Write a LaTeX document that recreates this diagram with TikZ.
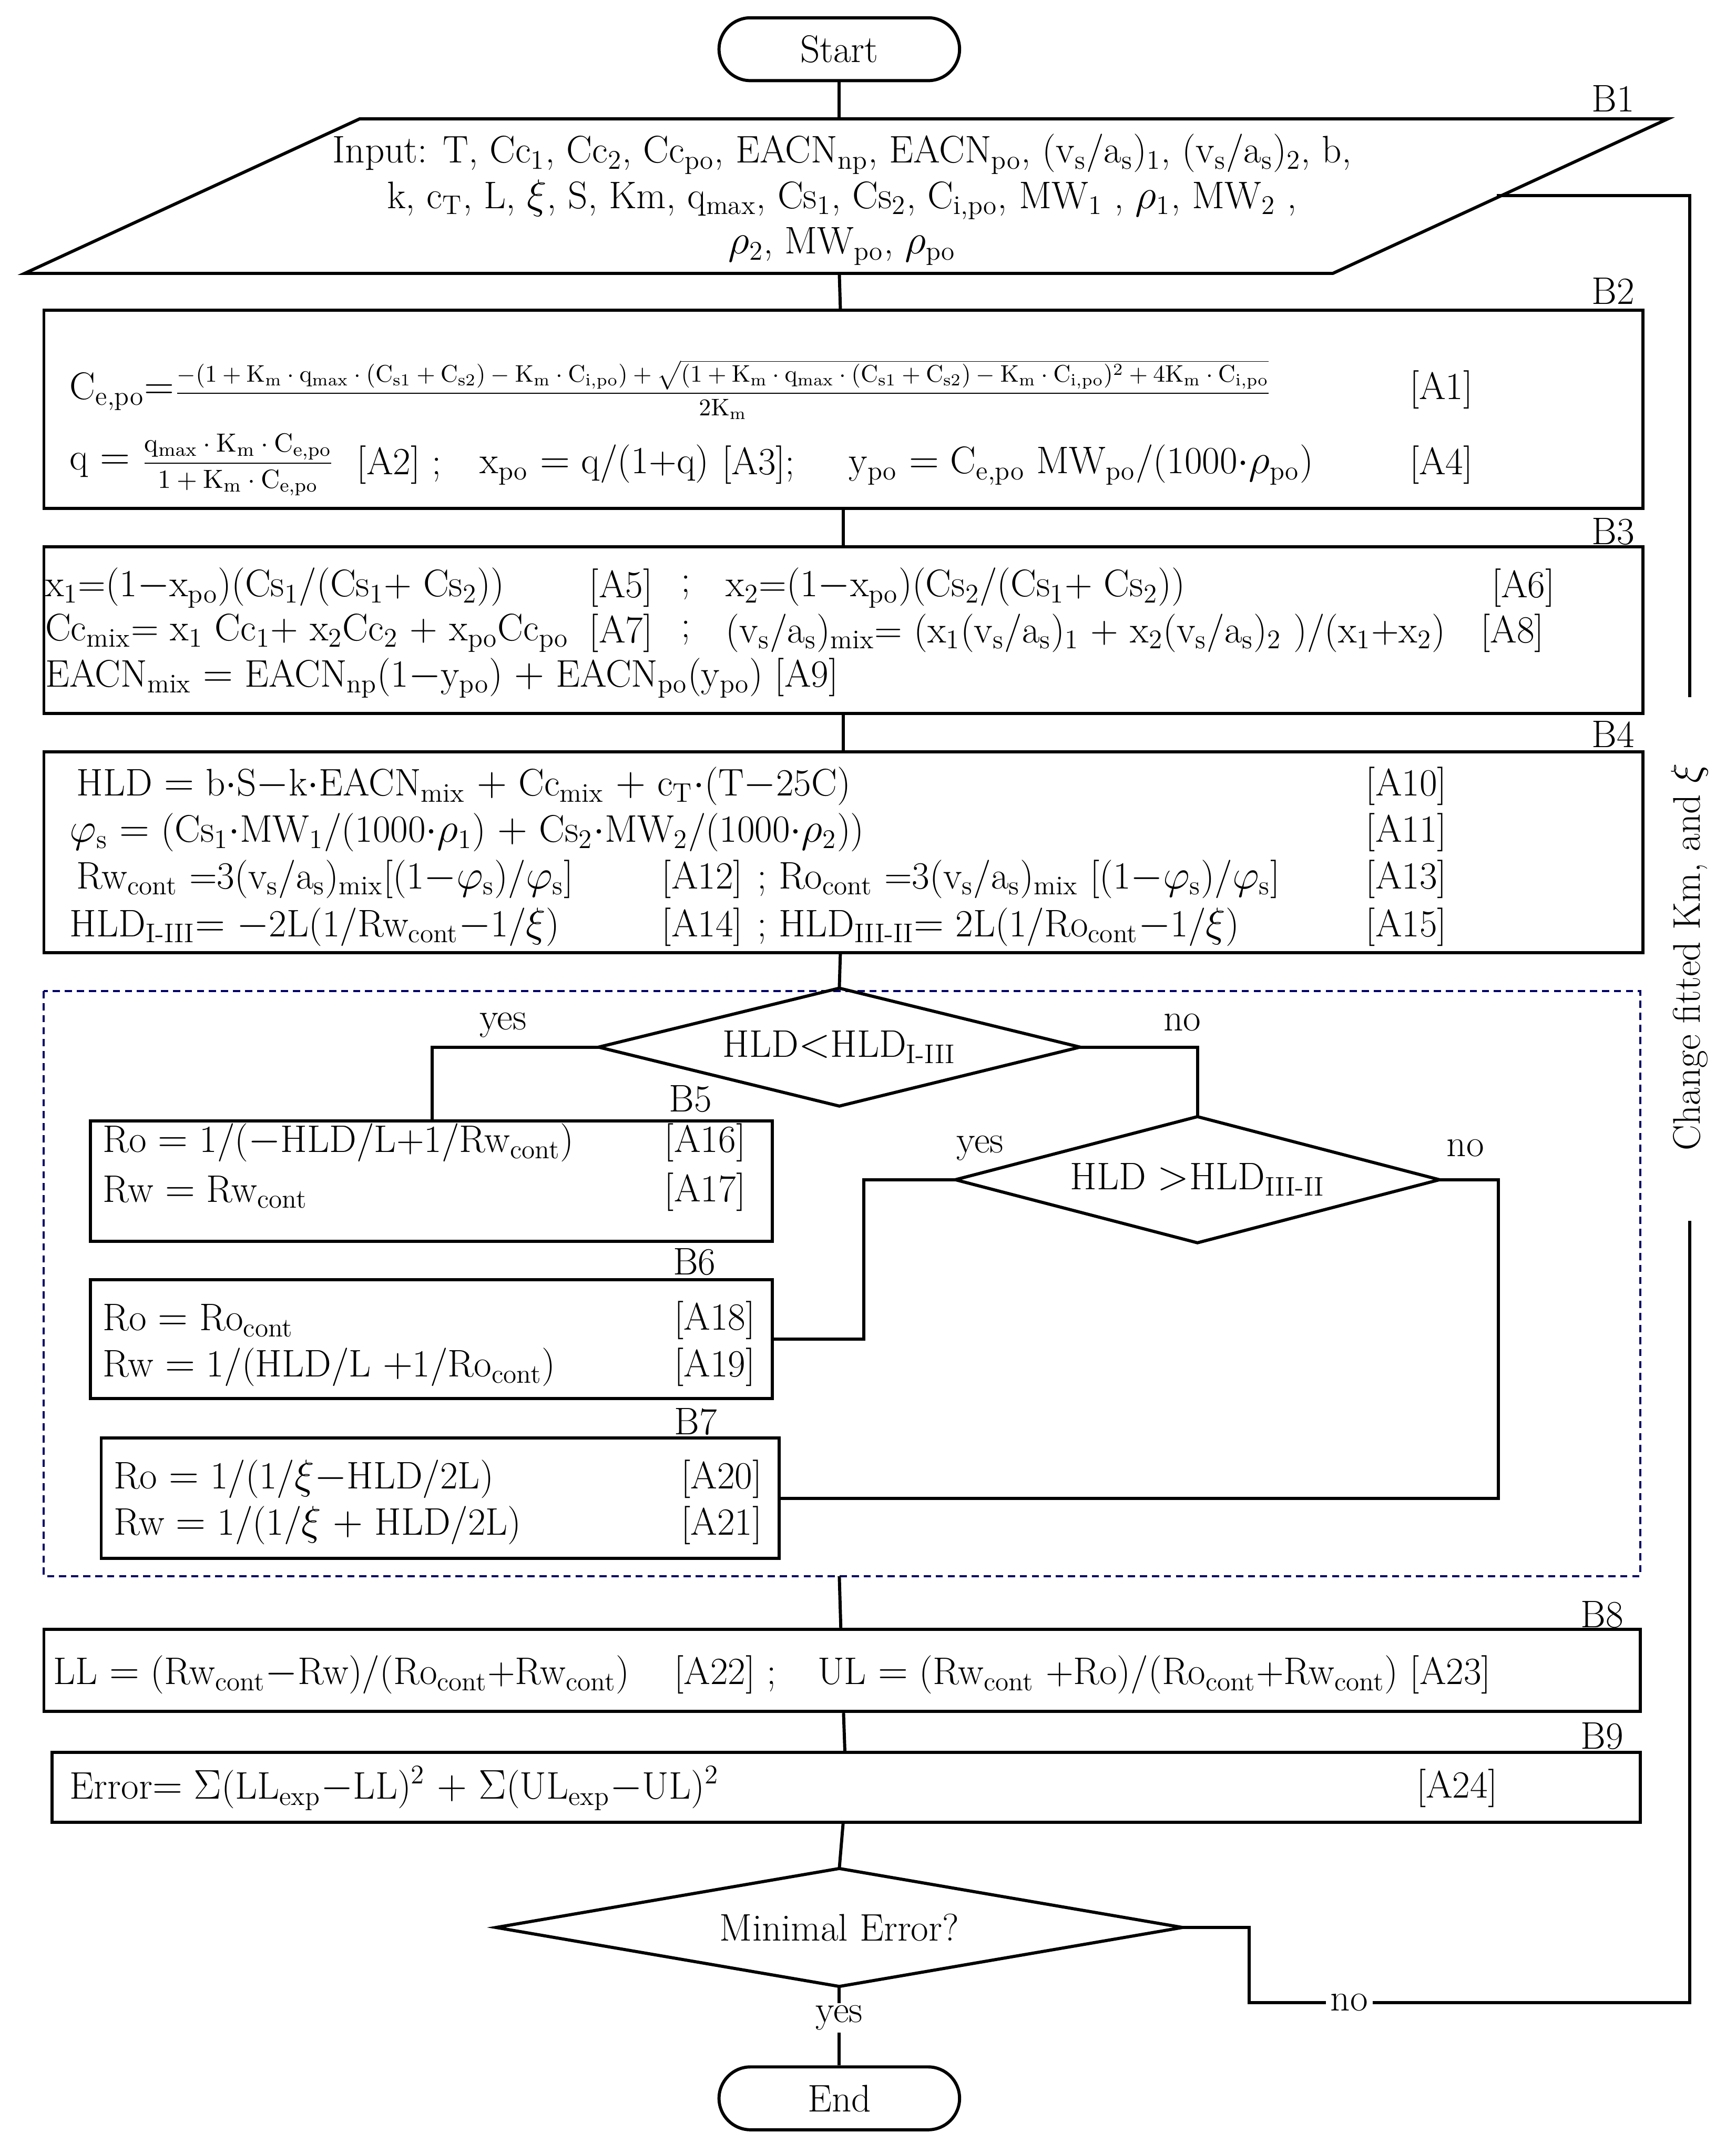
\documentclass[tikz,border=0pt]{standalone}
\usepackage{amsmath}
\usetikzlibrary{positioning, calc}
\newcommand{\lo}[1]{\textsubscript{#1}}
\newcommand{\hi}[1]{\textsuperscript{#1}}
\begin{document}
\begin{tikzpicture}[
    x=0.02cm, y=-0.02cm,
    font=\fontsize{16}{19}\selectfont,
    line width=1.3pt,
    box/.style={draw, line width=1.3pt, inner sep=0pt},
    term/.style={draw, rounded corners=0.46cm, minimum width=3.52cm, minimum height=0.92cm},
    txt/.style={anchor=west, inner sep=0pt},
    tag/.style={inner sep=0pt},
    dia/.style={inner sep=0pt},
    flow/.style={line width=1.3pt}
]
\useasboundingbox (0,0) rectangle (1270,1575);

% --- Terminals ---
\node[term] (start) at (614,36) {Start};
\node[term] (end) at (614,1535) {End};

% --- B1 input ---
\coordinate (p1) at (263,87); \coordinate (p2) at (1220,87);
\coordinate (p3) at (975,200); \coordinate (p4) at (18,200);
\draw[flow] (p1) -- (p2) -- (p3) -- (p4) -- cycle;
\coordinate (b1top) at (614,87); \coordinate (b1bot) at (614,200);
\coordinate (b1right) at (1095,143);
\node[tag] (l1) at (1180,72) {B1};
\node[align=center, inner sep=0pt] (inp) at (616,146) {Input: T, Cc\lo{1}, Cc\lo{2}, Cc\lo{po}, EACN\lo{np}, EACN\lo{po}, (v\lo{s}/a\lo{s})\lo{1}, (v\lo{s}/a\lo{s})\lo{2}, b,\\
k, c\lo{T}, L, $\xi$, S, Km, q\lo{max}, Cs\lo{1}, Cs\lo{2}, C\lo{i,po}, MW\lo{1} , $\rho$\lo{1}, MW\lo{2} ,\\
$\rho$\lo{2}, MW\lo{po}, $\rho$\lo{po}};

% --- B2 ---
\node[box, minimum width=23.4cm, minimum height=2.9cm] (b2) at (617,299.5) {};
\node[tag] (l2) at (1180,213) {B2};
\node[txt] (a1) at (50,285) {C\lo{e,po}$=$\fontsize{10}{12}\selectfont$\dfrac{\mathrm{-(1+K_m\cdot q_{max}\cdot(C_{s1}+C_{s2})-K_m\cdot C_{i,po})+\sqrt{(1+K_m\cdot q_{max}\cdot(C_{s1}+C_{s2})-K_m\cdot C_{i,po})^2+4K_m\cdot C_{i,po}}}}{\mathrm{2K_m}}$};
\node[txt] (t1) at (1030,285) {[A1]};
\node[txt] (a2) at (50,340) {q $=$ \fontsize{11}{13}\selectfont$\dfrac{\mathrm{q_{max}\cdot K_m\cdot C_{e,po}}}{\mathrm{1+K_m\cdot C_{e,po}}}$};
\node[txt] (t2) at (260,340) {[A2] ;};
\node[txt] (a3) at (350,340) {x\lo{po} $=$ q/(1+q)};
\node[txt] (t3) at (527,340) {[A3];};
\node[txt] (a4) at (620,340) {y\lo{po} $=$ C\lo{e,po} MW\lo{po}/(1000$\cdot\rho$\lo{po})};
\node[txt] (t4) at (1030,340) {[A4]};

% --- B3 ---
\node[box, minimum width=23.4cm, minimum height=2.44cm] (b3) at (617,461) {};
\node[tag] (l3) at (1180,389) {B3};
\node[txt] (a5) at (32,430) {x\lo{1}=(1$-$x\lo{po})(Cs\lo{1}/(Cs\lo{1}+ Cs\lo{2}))};
\node[txt] (t5) at (430,430) {[A5]};
\node[txt] (s5) at (497,430) {;};
\node[txt] (a6) at (530,430) {x\lo{2}=(1$-$x\lo{po})(Cs\lo{2}/(Cs\lo{1}+ Cs\lo{2}))};
\node[txt] (t6) at (1090,430) {[A6]};
\node[txt] (a7) at (32,463) {Cc\lo{mix}= x\lo{1} Cc\lo{1}+ x\lo{2}Cc\lo{2} + x\lo{po}Cc\lo{po}};
\node[txt] (t7) at (430,463) {[A7]};
\node[txt] (s7) at (497,463) {;};
\node[txt] (a8) at (530,463) {(v\lo{s}/a\lo{s})\lo{mix}= (x\lo{1}(v\lo{s}/a\lo{s})\lo{1} + x\lo{2}(v\lo{s}/a\lo{s})\lo{2} )/(x\lo{1}+x\lo{2})};
\node[txt] (t8) at (1082,463) {[A8]};
\node[txt] (a9) at (32,496) {EACN\lo{mix} $=$ EACN\lo{np}(1$-$y\lo{po}) $+$ EACN\lo{po}(y\lo{po}) [A9]};

% --- B4 ---
\node[box, minimum width=23.4cm, minimum height=2.94cm] (b4) at (617,623.5) {};
\node[tag] (l4) at (1180,537) {B4};
\node[txt] (a10) at (55,575) {HLD $=$ b$\cdot$S$-$k$\cdot$EACN\lo{mix} $+$ Cc\lo{mix} $+$ c\lo{T}$\cdot$(T$-$25C)};
\node[txt] (t10) at (998,575) {[A10]};
\node[txt] (a11) at (50,609) {$\varphi$\lo{s} $=$ (Cs\lo{1}$\cdot$MW\lo{1}/(1000$\cdot\rho$\lo{1}) $+$ Cs\lo{2}$\cdot$MW\lo{2}/(1000$\cdot\rho$\lo{2}))};
\node[txt] (t11) at (998,609) {[A11]};
\node[txt] (a12) at (55,643) {Rw\lo{cont} =3(v\lo{s}/a\lo{s})\lo{mix}[(1$-\varphi$\lo{s})/$\varphi$\lo{s}]};
\node[txt] (t12) at (483,643) {[A12]};
\node[txt] (a13) at (553,643) {; Ro\lo{cont} =3(v\lo{s}/a\lo{s})\lo{mix} [(1$-\varphi$\lo{s})/$\varphi$\lo{s}]};
\node[txt] (t13) at (998,643) {[A13]};
\node[txt] (a14) at (50,678) {HLD\lo{I-III}$=$ $-$2L(1/Rw\lo{cont}$-$1/$\xi$)};
\node[txt] (t14) at (483,678) {[A14]};
\node[txt] (a15) at (553,678) {; HLD\lo{III-II}$=$ 2L(1/Ro\lo{cont}$-$1/$\xi$)};
\node[txt] (t15) at (998,678) {[A15]};

% --- Decision region ---
\draw[densely dashed, line width=0.8pt, blue!40!black] (32,725) rectangle (1200,1153);
\coordinate (dtop) at (614,725); \coordinate (dbot) at (614,1153);

\node[dia, minimum width=7cm, minimum height=1.68cm] (d1) at (614,766) {HLD$<$HLD\lo{I-III}};
\draw[flow] (d1.west) -- (d1.north) -- (d1.east) -- (d1.south) -- cycle;
\node[dia, minimum width=7.04cm, minimum height=1.8cm] (d2) at (876,863) {HLD $>$HLD\lo{III-II}};
\draw[flow] (d2.west) -- (d2.north) -- (d2.east) -- (d2.south) -- cycle;

\node[box, minimum width=9.98cm, minimum height=1.76cm] (b5) at (315.5,864) {};
\node[tag] (l5) at (505,804) {B5};
\node[txt] (a16) at (74,836) {Ro $=$ 1/($-$HLD/L+1/Rw\lo{cont})};
\node[txt] (t16) at (485,836) {[A16]};
\node[txt] (a17) at (74,872) {Rw $=$ Rw\lo{cont}};
\node[txt] (t17) at (485,872) {[A17]};

\node[box, minimum width=9.98cm, minimum height=1.74cm] (b6) at (315.5,979.5) {};
\node[tag] (l6) at (508,923) {B6};
\node[txt] (a18) at (74,966) {Ro $=$ Ro\lo{cont}};
\node[txt] (t18) at (492,966) {[A18]};
\node[txt] (a19) at (74,1000) {Rw $=$ 1/(HLD/L $+$1/Ro\lo{cont})};
\node[txt] (t19) at (492,1000) {[A19]};

\node[box, minimum width=9.92cm, minimum height=1.76cm] (b7) at (322,1096) {};
\node[tag] (l7) at (509,1040) {B7};
\node[txt] (a20) at (82,1082) {Ro $=$ 1/(1/$\xi-$HLD/2L)};
\node[txt] (t20) at (497,1082) {[A20]};
\node[txt] (a21) at (82,1116) {Rw $=$ 1/(1/$\xi$ $+$ HLD/2L)};
\node[txt] (t21) at (497,1116) {[A21]};

% --- B8, B9 ---
\node[box, minimum width=23.36cm, minimum height=1.2cm] (b8) at (616,1222) {};
\node[tag] (l8) at (1172,1181) {B8};
\node[txt] (a22) at (38,1225) {LL $=$ (Rw\lo{cont}$-$Rw)/(Ro\lo{cont}+Rw\lo{cont})};
\node[txt] (t22) at (492,1225) {[A22] ;};
\node[txt] (a23) at (597,1225) {UL $=$ (Rw\lo{cont} +Ro)/(Ro\lo{cont}+Rw\lo{cont}) [A23]};

\node[box, minimum width=23.24cm, minimum height=1.02cm] (b9) at (619,1307.5) {};
\node[tag] (l9) at (1172,1270) {B9};
\node[txt] (a24) at (50,1308) {Error$=$ $\Sigma$(LL\lo{exp}$-$LL)\hi{2} $+$ $\Sigma$(UL\lo{exp}$-$UL)\hi{2}};
\node[txt] (t24) at (1035,1308) {[A24]};

\node[dia, minimum width=10cm, minimum height=1.68cm] (d3) at (614,1410) {Minimal Error?};
\draw[flow] (d3.west) -- (d3.north) -- (d3.east) -- (d3.south) -- cycle;

% --- Main flow ---
\draw[flow] (start) -- (b1top);
\draw[flow] (b1bot) -- (b2);
\draw[flow] (b2) -- (b3);
\draw[flow] (b3) -- (b4);
\draw[flow] (b4) -- (d1.north);
\draw[flow] (d1.west) -| (b5.north -| 316,0);
\node[tag] (yes1) at (368,750) {yes};
\node[tag] (no1) at (865,748) {no};
\draw[flow] (d1.east) -| (d2.north);
\coordinate (c1) at (632,863);
\draw[flow] (d2.west) -- (c1) |- (b6.east);
\node[tag] (yes2) at (717,840) {yes};
\coordinate (c2) at (1096,863);
\draw[flow] (d2.east) -- (c2) |- (b7.east);
\node[tag] (no2) at (1072,840) {no};
\draw[flow] (dbot) -- (b8);
\draw[flow] (b8) -- (b9);
\draw[flow] (b9) -- (d3.north);
\draw[flow] (d3.south) -- (end) node[pos=0.4, fill=white, inner sep=1pt] {yes};

% --- Loop back ---
\coordinate (r1) at (914,1410);
\coordinate (r2) at (914,1465);
\coordinate (r3) at (1236,1465);
\coordinate (r4) at (1236,893);
\coordinate (r5) at (1236,510);
\coordinate (r6) at (1236,143);
\draw[flow] (d3.east) -- (r1) -- (r2) -- (r3) -- (r4);
\node[fill=white, inner sep=2pt] (no3) at (987,1465) {no};
\draw[flow] (r5) -- (r6) -- (b1right);
\node[rotate=90, inner sep=0pt] (chg) at (1236,700) {Change fitted Km, and $\xi$};
\end{tikzpicture}
\end{document}
